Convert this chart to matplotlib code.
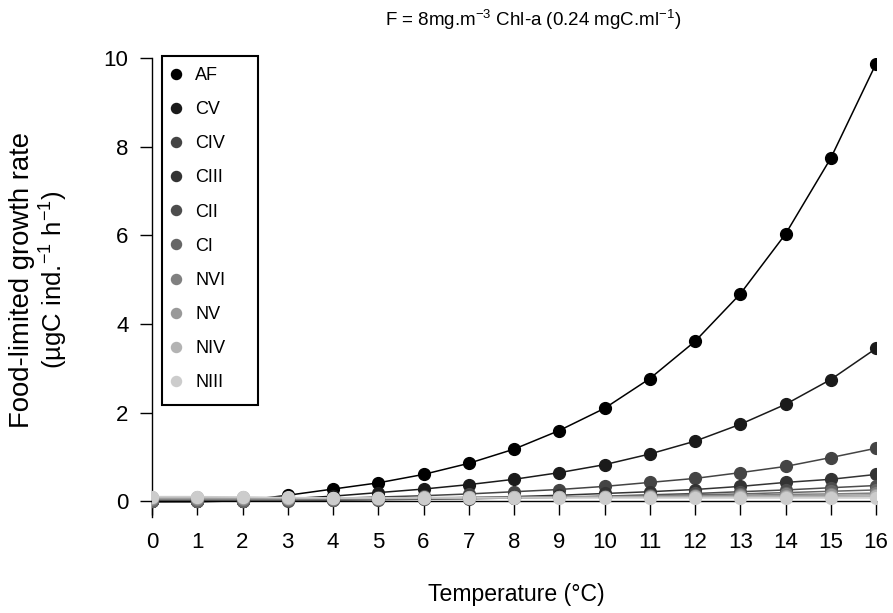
import numpy as np
from matplotlib import pyplot as plt
from matplotlib.patches import Rectangle

plt.rcParams['font.family'] = ['Liberation Sans', 'DejaVu Sans']
plt.rcParams['mathtext.fontset'] = 'custom'
plt.rcParams['mathtext.rm'] = 'Liberation Sans'
plt.rcParams['mathtext.it'] = 'Liberation Sans'

temp = np.arange(0, 17)

stages = ["AF", "CV", "CIV", "CIII", "CII", "CI", "NVI", "NV", "NIV", "NIII"]
colors = ["#000000", "#1a1a1a", "#444444", "#333333", "#4d4d4d",
          "#666666", "#808080", "#999999", "#b3b3b3", "#cccccc"]

# growth rates (ugC ind-1 h-1)
AF   = [0.0, 0.0, 0.02, 0.14, 0.28, 0.42, 0.61, 0.86, 1.18, 1.60, 2.10, 2.77, 3.61, 4.68, 6.03, 7.74, 9.87]
CV   = [0.0, 0.0, 0.01, 0.06, 0.12, 0.20, 0.28, 0.38, 0.50, 0.65, 0.83, 1.07, 1.36, 1.74, 2.19, 2.75, 3.45]
CIV  = [0.0, 0.01, 0.02, 0.04, 0.07, 0.10, 0.13, 0.17, 0.22, 0.27, 0.34, 0.43, 0.52, 0.65, 0.79, 0.99, 1.20]
CIII = [0.0, 0.0, 0.01, 0.03, 0.04, 0.05, 0.07, 0.09, 0.11, 0.14, 0.18, 0.22, 0.27, 0.34, 0.43, 0.50, 0.61]
CII  = [0.0, 0.0, 0.01, 0.02, 0.03, 0.04, 0.05, 0.06, 0.08, 0.10, 0.12, 0.15, 0.18, 0.22, 0.26, 0.31, 0.36]
CI   = [0.02, 0.02, 0.02, 0.03, 0.04, 0.05, 0.06, 0.07, 0.08, 0.09, 0.11, 0.13, 0.15, 0.17, 0.20, 0.23, 0.26]
NVI  = [0.05, 0.05, 0.05, 0.05, 0.06, 0.06, 0.07, 0.08, 0.09, 0.10, 0.11, 0.12, 0.13, 0.14, 0.16, 0.17, 0.19]
NV   = [0.07, 0.07, 0.07, 0.07, 0.07, 0.08, 0.08, 0.09, 0.09, 0.10, 0.10, 0.11, 0.12, 0.12, 0.13, 0.14, 0.15]
NIV  = [0.09, 0.09, 0.09, 0.08, 0.08, 0.08, 0.09, 0.09, 0.09, 0.09, 0.10, 0.10, 0.10, 0.11, 0.11, 0.11, 0.12]
NIII = [0.11, 0.11, 0.10, 0.09, 0.08, 0.08, 0.08, 0.08, 0.08, 0.08, 0.08, 0.08, 0.08, 0.08, 0.08, 0.08, 0.08]

rates = [AF, CV, CIV, CIII, CII, CI, NVI, NV, NIV, NIII]

fig = plt.figure(figsize=(8.93, 6.13), dpi=100)
ax = fig.add_axes([152/893, 1 - 517/613, 724/893, (517 - 58)/613])

for name, col, r in zip(stages, colors, rates):
    ax.plot(temp, r, color=col, lw=1.1, zorder=2)
    ax.plot(temp, r, "o", color=col, ms=8.5, mec=col, zorder=3, label=name)

ax.set_xlim(0, 16)
ax.set_ylim(-0.35, 10)
ax.set_xticks(range(0, 17))
ax.set_yticks([0, 2, 4, 6, 8, 10])

ax.spines['top'].set_visible(False)
ax.spines['right'].set_visible(False)
ax.spines['bottom'].set_position(('data', 0))
for s in ['left', 'bottom']:
    ax.spines[s].set_linewidth(1.0)
ax.tick_params(axis='x', length=10, width=1.0, pad=12, labelsize=16)
ax.tick_params(axis='y', length=9, width=1.0, pad=8, labelsize=16)

# legend without frame, box drawn separately so it matches the reference width
leg = ax.legend(loc='upper left', bbox_to_anchor=(171/893, 1 - 67/613),
                bbox_transform=fig.transFigure, frameon=False,
                fontsize=13, labelspacing=0.95, handlelength=0.6,
                handletextpad=0.75, borderpad=0.0, borderaxespad=0, markerscale=0.85)
fig.patches.append(Rectangle((162/893, 1 - 405/613), 96/893, 349/613,
                             transform=fig.transFigure, fill=False,
                             edgecolor="black", lw=1.5))

fig.text(533/893, 1 - 20/613, "F = 8mg.m$^{-3}$ Chl-a (0.24 mgC.ml$^{-1}$)",
         ha='center', va='center', fontsize=13.5)
fig.text(516/893, 1 - 594/613, "Temperature (°C)", ha='center', va='center', fontsize=16.6)
fig.text(22/893, 1 - 280/613, "Food-limited growth rate", rotation=90,
         ha='center', va='center', fontsize=19.8)
fig.text(54/893, 1 - 280/613, "(µgC ind.$^{-1}$ h$^{-1}$)", rotation=90,
         ha='center', va='center', fontsize=18.5)

fig.savefig("out.png", dpi=100)
